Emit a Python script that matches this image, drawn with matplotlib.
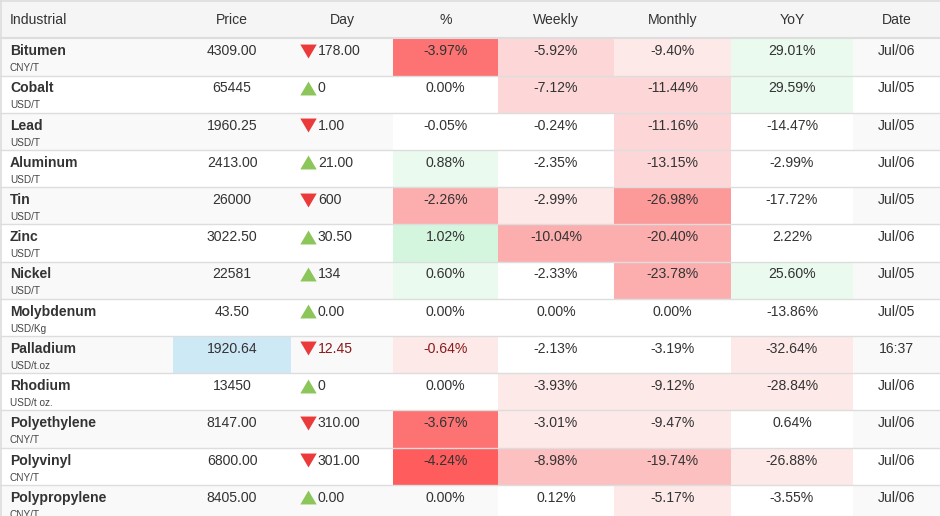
import matplotlib.pyplot as plt
from matplotlib.patches import Rectangle

plt.rcParams['font.family'] = ['Liberation Sans', 'DejaVu Sans']

headers = ["Industrial", "Price", "Day", "%", "Weekly", "Monthly", "YoY", "Date"]
names = ["Bitumen", "Cobalt", "Lead", "Aluminum", "Tin", "Zinc", "Nickel",
         "Molybdenum", "Palladium", "Rhodium", "Polyethylene", "Polyvinyl", "Polypropylene"]
units = ["CNY/T", "USD/T", "USD/T", "USD/T", "USD/T", "USD/T", "USD/T",
         "USD/Kg", "USD/t.oz", "USD/t oz.", "CNY/T", "CNY/T", "CNY/T"]
prices = ["4309.00", "65445", "1960.25", "2413.00", "26000", "3022.50", "22581",
          "43.50", "1920.64", "13450", "8147.00", "6800.00", "8405.00"]
day_change = ["178.00", "0", "1.00", "21.00", "600", "30.50", "134",
              "0.00", "12.45", "0", "310.00", "301.00", "0.00"]
day_up = [False, True, False, True, False, True, True,
          True, False, True, False, False, True]
pct = ["-3.97%", "0.00%", "-0.05%", "0.88%", "-2.26%", "1.02%", "0.60%",
       "0.00%", "-0.64%", "0.00%", "-3.67%", "-4.24%", "0.00%"]
weekly = ["-5.92%", "-7.12%", "-0.24%", "-2.35%", "-2.99%", "-10.04%", "-2.33%",
          "0.00%", "-2.13%", "-3.93%", "-3.01%", "-8.98%", "0.12%"]
monthly = ["-9.40%", "-11.44%", "-11.16%", "-13.15%", "-26.98%", "-20.40%", "-23.78%",
           "0.00%", "-3.19%", "-9.12%", "-9.47%", "-19.74%", "-5.17%"]
yoy = ["29.01%", "29.59%", "-14.47%", "-2.99%", "-17.72%", "2.22%", "25.60%",
       "-13.86%", "-32.64%", "-28.84%", "0.64%", "-26.88%", "-3.55%"]
dates = ["Jul/06", "Jul/05", "Jul/05", "Jul/06", "Jul/05", "Jul/06", "Jul/05",
         "Jul/05", "16:37", "Jul/06", "Jul/06", "Jul/06", "Jul/06"]

# heat colours for %, Weekly, Monthly, YoY (None = row stripe shows through)
R5, R4, R3, R2, R2b, R1, R0 = '#fe5c5d', '#fd7373', '#fc9a9a', '#fcaeae', '#fdc0c0', '#fdd7d7', '#fee9e9'
G0, G1, W = '#eafaee', '#d4f5de', '#ffffff'
heat = [
    [R4, R1, R0, G0],
    [None, R1, R1, G0],
    [W, W, R1, W],
    [G0, W, R1, W],
    [R2, R0, R3, W],
    [G1, R2, R2, W],
    [G0, W, R2, G0],
    [None, None, None, W],
    [R0, W, W, R0],
    [None, R0, R0, R0],
    [R4, R0, R0, W],
    [R5, R2b, R2b, R0],
    [None, W, R0, W],
]

col_edges = [0, 173, 291, 393, 498, 614, 731, 853, 940]
header_h = 38.3
row_h = 37.2
fs = 10.1
txt = '#333333'

# marker shapes are in screen space (y up)
tri_up = [(-1, -0.85), (1, -0.85), (0, 0.85)]
tri_down = [(-1, 0.85), (1, 0.85), (0, -0.85)]

fig = plt.figure(figsize=(9.4, 5.16), dpi=100)
ax = fig.add_axes([0, 0, 1, 1])
ax.set_xlim(0, 940)
ax.set_ylim(516, 0)
ax.axis('off')

# header
ax.add_patch(Rectangle((0, 0), 940, header_h, color='#f5f5f5', lw=0))
for i, h in enumerate(headers):
    if i == 0:
        ax.text(10, 20, h, fontsize=fs, color=txt, va='center', ha='left')
    else:
        cx = (col_edges[i] + col_edges[i + 1]) / 2
        ax.text(cx, 20, h, fontsize=fs, color=txt, va='center', ha='center')

for r in range(len(names)):
    top = header_h + r * row_h
    if r % 2 == 0:
        ax.add_patch(Rectangle((0, top), 940, row_h, color='#f9f9f9', lw=0))
    if names[r] == "Palladium":
        ax.add_patch(Rectangle((col_edges[1], top), col_edges[2] - col_edges[1], row_h,
                               color='#cde9f6', lw=0))
    for j, c in enumerate(heat[r]):
        if c is not None:
            x0 = col_edges[3 + j]
            ax.add_patch(Rectangle((x0, top), col_edges[4 + j] - x0, row_h, color=c, lw=0))
    ax.axhline(top + row_h, color='#dddddd', lw=1)

    ym = top + 13
    ax.text(10, ym, names[r], fontsize=fs, fontweight='bold', color=txt, va='center')
    ax.text(10, top + 30, units[r], fontsize=7.2, color='#444444', va='center')
    ax.text((col_edges[1] + col_edges[2]) / 2, ym, prices[r], fontsize=fs, color=txt,
            ha='center', va='center')
    live = '#8b1a1a' if names[r] == "Palladium" else txt
    if day_up[r]:
        ax.plot(307.5, ym - 0.5, marker=tri_up, ms=11.8, color='#8cc65a', mec='none')
    else:
        ax.plot(307.5, ym - 0.5, marker=tri_down, ms=11.8, color='#ea3a3a', mec='none')
    ax.text(318, ym, day_change[r], fontsize=fs, color=live, va='center')
    for j, vals in enumerate([pct, weekly, monthly, yoy]):
        cx = (col_edges[3 + j] + col_edges[4 + j]) / 2
        c = live if (j == 0 and names[r] == "Palladium") else txt
        ax.text(cx, ym, vals[r], fontsize=fs, color=c, ha='center', va='center')
    ax.text((col_edges[7] + col_edges[8]) / 2, ym, dates[r], fontsize=fs, color=txt,
            ha='center', va='center')

ax.axhline(header_h, color='#dddddd', lw=1.5)
ax.axhline(1, color='#dddddd', lw=1.2)
ax.axvline(0.8, color='#dddddd', lw=1.2)

fig.savefig('out.png', dpi=100)
